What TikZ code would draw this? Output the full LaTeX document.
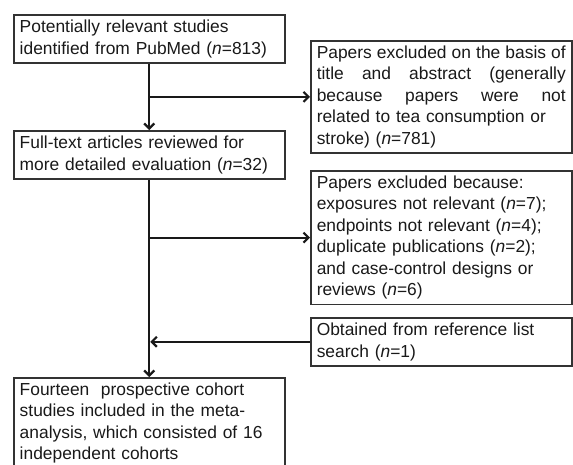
\documentclass[tikz,border=0pt]{standalone}
\usepackage{fontspec}
\setmainfont{Liberation Sans}
\usetikzlibrary{arrows.meta}
\newcommand{\nn}{\textit{n}}
\newcommand{\gap}{\hfill}
\newcommand{\fullline}[1]{\leavevmode\hbox to 249pt{#1}}
\begin{document}
\begin{tikzpicture}[x=1pt,y=-1pt]
    \tikzstyle{box}=[draw=black!80,line width=1.5pt,anchor=north west,align=left,inner xsep=6pt,inner ysep=5pt,font=\fontsize{17.4}{21.5}\selectfont,text=black!90]
    \tikzstyle{edge}=[draw,line width=2.2pt,black!90,-{Straight Barb[length=5pt,width=10pt,line width=2.2pt]}]
    \useasboundingbox (0,0) rectangle (573,464);
    \begin{scope}
        \node [box,text width=259pt,minimum height=48pt] (found) at (13,14) {Potentially relevant studies\\identified from PubMed (\nn=813)};
        \node [box,text width=259pt,minimum height=48pt] (full) at (13,130) {Full-text articles reviewed for\\more detailed evaluation (\nn=32)};
        \node [box,text width=259pt] (final) at (13,377) {Fourteen\ \ prospective cohort\\studies included in the meta-\\analysis, which consisted of 16\\independent cohorts};
        \node [box,text width=249pt,minimum height=112pt] (excl1) at (310,40) {\fullline{Papers\gap excluded\gap on\gap the\gap basis\gap of}\\\fullline{title\gap and\gap abstract\gap (generally}\\\fullline{because\gap papers\gap were\gap not}\\related to tea consumption or\\stroke) (\nn=781)};
        \node [box,text width=249pt,minimum height=132pt] (excl2) at (310,170) {Papers excluded because:\\exposures not relevant (\nn=7);\\endpoints not relevant (\nn=4);\\duplicate publications (\nn=2);\\and case-control designs or\\reviews (\nn=6)};
        \node [box,text width=249pt,minimum height=48pt] (extra) at (310,317) {Obtained from reference list\\search (\nn=1)};
        \path[edge] (found.south) -- (full.north);
        \path[edge] (full.south) -- (final.north);
        \path[edge] (excl1.west -| found.south) -- (excl1.west);
        \path[edge] (excl2.west -| full.south) -- (excl2.west);
        \path[edge] (extra.west) -- ([xshift=1pt]extra.west -| final.north);
    \end{scope}
\end{tikzpicture}
\end{document}
